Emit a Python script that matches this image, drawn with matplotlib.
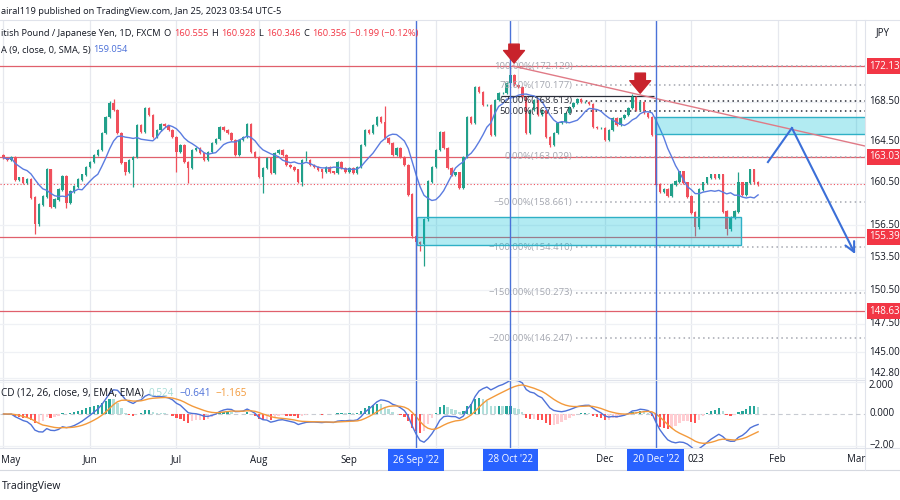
import numpy as np
import pandas as pd
import matplotlib
matplotlib.use('Agg')
import matplotlib.pyplot as plt
from matplotlib.patches import Rectangle
from matplotlib.ticker import NullLocator

# GBPJPY daily closes, May 2 2022 .. Jan 25 2023
closes = [
    162.92, 162.73, 163.02, 160.80, 160.99, 160.51, 160.80, 159.08, 156.55, 158.42,
    159.18, 161.76, 158.23, 158.89, 159.84, 161.09, 158.61, 159.65, 160.13, 160.80,
    161.28, 162.05, 162.53, 163.21, 163.70, 165.36, 166.95, 168.35, 167.65, 165.36,
    162.44, 161.57, 162.73, 163.02, 166.15, 165.46, 167.85, 167.15, 164.97, 165.66,
    166.25, 166.05, 165.66, 164.97, 163.50, 164.19, 162.53, 161.95, 163.70, 163.89,
    163.40, 162.73, 163.50, 164.38, 164.77, 165.95, 165.66, 165.36, 164.68, 163.21,
    164.68, 164.97, 166.25, 163.50, 163.02, 161.09, 161.95, 162.92, 161.47, 163.40,
    163.70, 163.21, 162.24, 162.05, 161.76, 160.61, 162.73, 162.73, 162.24, 162.05,
    161.76, 161.57, 162.05, 161.57, 161.47, 162.53, 161.95, 161.57, 161.95, 161.47,
    162.05, 164.19, 165.66, 165.36, 166.15, 166.95, 166.45, 164.87, 164.38, 163.21,
    163.89, 163.02, 162.24, 159.37, 155.44, 154.89, 154.70, 157.02, 160.61, 162.05,
    163.70, 165.46, 163.89, 161.95, 161.28, 161.47, 160.03, 163.02, 166.95, 166.35,
    169.97, 169.45, 168.15, 168.15, 165.17, 168.65, 169.35, 169.35, 170.38, 171.20,
    170.17, 169.97, 168.95, 165.36, 167.65, 168.65, 167.15, 167.65, 164.97, 164.19,
    165.36, 166.35, 166.45, 167.35, 167.95, 168.35, 168.75, 168.45, 168.45, 168.25,
    165.95, 165.86, 165.86, 164.68, 165.66, 166.85, 166.15, 166.85, 167.15, 167.85,
    168.95, 167.65, 168.45, 167.35, 166.95, 165.17, 160.32, 159.65, 159.84, 159.27,
    160.32, 160.61, 161.57, 160.51, 159.18, 157.67, 156.27, 159.84, 160.51, 160.99,
    161.28, 160.99, 161.28, 157.76, 156.09, 157.20, 157.76, 160.51, 159.37, 160.51,
    161.76, 160.555, 160.356,
]
first_open = 163.21

# long wicks visible on the chart (bar index, price)
wick_low_idx = [8, 16, 31, 33, 44, 47, 66, 76, 81, 105, 106, 107, 139, 176, 184]
wick_low_val = [155.70, 158.14, 161.28, 160.13, 161.57, 160.51, 159.56, 160.23, 160.99,
                148.85, 154.06, 152.69, 163.96, 155.44, 155.53]
wick_high_idx = [11, 27, 28, 77, 97, 129, 160, 187]
wick_high_val = [161.95, 168.55, 168.75, 163.60, 168.07, 172.13, 169.25, 161.57]

red_levels = [172.13, 163.03, 155.39, 148.63]
red_labels = ['172.13', '163.03', '155.39', '148.63']
price_ticks = [168.5, 164.5, 160.5, 156.5, 153.5, 150.5, 147.5, 145.0, 142.8]

fib_prices = [172.129, 170.177, 168.613, 167.517, 163.029, 158.661, 154.410, 150.273, 146.247]
fib_labels = ['100.00%(172.129)', '78.60%(170.177)', '62.00%(168.613)', '50.00%(167.517)',
              '0.00%(163.029)', '\u221250.00%(158.661)', '\u2212100.00%(154.410)',
              '\u2212150.00%(150.273)', '\u2212200.00%(146.247)']
fib_dark = [False, False, True, True, False, False, False, False, False]

marked_dates = ['2022-09-26', '2022-10-28', '2022-12-20']
marked_labels = ["26 Sep '22", "28 Oct '22", "20 Dec '22"]

W, H = 900, 500
UP, DOWN = '#22a08a', '#f0505c'
BLUE = '#4a72d8'
GRID = '#e6e8ee'


def fx(px):
    return px / W


def fy(py):
    return 1 - py / H


def bar_px(i):
    return 3.5 + 3.93 * i


fig = plt.figure(figsize=(9, 5), dpi=100)
fig.patch.set_facecolor('white')
ax = fig.add_axes([0, fy(380), fx(865), (380 - 20) / H])
axm = fig.add_axes([0, fy(448), fx(865), (448 - 380) / H])

days = pd.bdate_range('2022-05-02', '2023-03-31')
n = len(closes)
xs = np.arange(n)
c = np.array(closes)
o = np.concatenate([[first_open], c[:-1]])
hi = np.maximum(o, c) + 0.12
lo = np.minimum(o, c) - 0.12
hi[wick_high_idx] = wick_high_val
lo[wick_low_idx] = wick_low_val

for a in (ax, axm):
    a.set_xlim(-0.89, 219.2)
    for s in a.spines.values():
        s.set_visible(False)
    a.set_xticks([])
    a.set_yticks([])

ax.set_yscale('log')
ax.set_ylim(142.63, 176.94)
ax.yaxis.set_major_locator(NullLocator())
ax.yaxis.set_minor_locator(NullLocator())
axm.set_ylim(-2.125, 2.125)

# grid
month_pos = [0]
month_lab = ['May']
for k in range(1, len(days)):
    if days[k].month != days[k - 1].month:
        month_pos.append(k)
        month_lab.append('2023' if days[k].month == 1 else days[k].strftime('%b'))
for p in month_pos:
    ax.axvline(p, color=GRID, lw=0.9, zorder=0)
    axm.axvline(p, color=GRID, lw=0.9, zorder=0)
for p in price_ticks:
    ax.axhline(p, color='#eff1f5', lw=0.9, zorder=0)
axm.axhline(-2, color='#eff1f5', lw=0.9, zorder=0)
axm.axhline(2, color='#eff1f5', lw=0.9, zorder=0)

# candles
colors = np.where(c >= o, UP, DOWN)
ax.vlines(xs, lo, hi, colors=colors, lw=0.9, zorder=3)
ax.bar(xs, np.abs(c - o) + 0.03, bottom=np.minimum(o, c), width=0.62, color=colors, zorder=4)

# moving average
ma = pd.Series(closes).rolling(9, min_periods=1).mean()
ax.plot(xs, ma, color='#5b7ce0', lw=1.0, zorder=5)

# horizontal levels
for p in red_levels:
    ax.axhline(p, color='#e0606c', lw=0.9, zorder=2)
ax.axhline(closes[-1], color='#f0505c', lw=0.8, ls=(0, (1, 2)), zorder=2)

# fibonacci extension
for p, lab, dark in zip(fib_prices, fib_labels, fib_dark):
    col = '#2a2e39' if dark else '#a4a7b0'
    ax.hlines(p, 145.6, 219.2, colors=col, lw=1.1, linestyles=(0, (1, 2.2)), zorder=2)
    ax.text(144.8, p, lab, ha='right', va='center', fontsize=6.8, color=col,
            family='Open Sans', zorder=6)
ax.hlines(169.07, 126.5, 165.5, colors='#2a2e39', lw=0.9, zorder=2)

# zones
ax.add_patch(Rectangle((105.2, 154.63), 187.7 - 105.2, 157.25 - 154.63,
                       facecolor=(0.0, 0.74, 0.84, 0.30), edgecolor='#2fb0c6', lw=1, zorder=6))
ax.add_patch(Rectangle((165.8, 165.26), 60, 166.94 - 165.26,
                       facecolor=(0.0, 0.74, 0.84, 0.30), edgecolor='#2fb0c6', lw=1, zorder=6))

# trend line
ax.plot([129.6, 219.2], [172.13, 164.08], color='#e07a86', lw=1, zorder=6)

# red arrows on the two tops
for xi, top, tip in [(129.9, 174.40, 172.44), (162.0, 171.40, 169.35)]:
    ax.annotate('', xy=(xi, tip), xytext=(xi, top),
                arrowprops=dict(arrowstyle='simple,head_width=1.0,head_length=0.6,tail_width=0.5',
                                fc='#c8232c', ec='#c8232c', mutation_scale=15,
                                shrinkA=0, shrinkB=0), zorder=8)

# projected path
ax.plot([194.5, 200.6], [162.51, 165.86], color='#3b6fd8', lw=1.5, zorder=7)
ax.annotate('', xy=(216.7, 153.80), xytext=(200.6, 165.86),
            arrowprops=dict(arrowstyle='->,head_length=0.7,head_width=0.35', color='#3b6fd8',
                            lw=1.5, shrinkA=0, shrinkB=0), zorder=7)

# marked dates
marked_pos = [days.get_loc(pd.Timestamp(d)) for d in marked_dates]
for p in marked_pos:
    ax.axvline(p, color=BLUE, lw=1, zorder=7)
    axm.axvline(p, color=BLUE, lw=1, zorder=7)

# MACD
s = pd.Series(closes)
macd = s.ewm(span=12, adjust=False).mean() - s.ewm(span=26, adjust=False).mean()
sig = macd.ewm(span=9, adjust=False).mean()
hist = (macd - sig).values
prev = np.concatenate([[0], hist[:-1]])
hcol = np.where(hist >= 0, np.where(hist > prev, '#26a69a', '#b2dfdb'),
                np.where(hist < prev, '#ff5252', '#ffcdd2'))
axm.bar(xs, hist, width=0.6, color=hcol, zorder=3)
axm.axhline(0, color='#c8cbd2', lw=0.8, ls=(0, (4, 3)), zorder=1)
axm.plot(xs, macd, color='#4f72d8', lw=1, zorder=4)
axm.plot(xs, sig, color='#f39a3c', lw=1, zorder=4)

# frame lines
fig.add_artist(plt.Line2D([0, 1], [fy(20), fy(20)], color='#e0e3eb', lw=0.8))
fig.add_artist(plt.Line2D([0, fx(865)], [fy(380), fy(380)], color='#e0e3eb', lw=0.8))
fig.add_artist(plt.Line2D([0, 1], [fy(448), fy(448)], color='#e0e3eb', lw=0.8))
fig.add_artist(plt.Line2D([0, 1], [fy(470), fy(470)], color='#d6d9e0', lw=0.8))
fig.add_artist(plt.Line2D([fx(865), fx(865)], [fy(470), fy(20)], color='#e0e3eb', lw=0.8))

# right price scale
TXT = '#131722'
fig.text(fx(876), fy(33), 'JPY', fontsize=7, color=TXT, va='center', family='Open Sans')


def price_y(p):
    return ax.transData.transform((0, p))[1] / H


for p in price_ticks:
    yy = price_y(p)
    if p == 142.8:
        yy = fy(374)
    fig.text(fx(869), yy, '%.2f' % p, fontsize=7, color=TXT, va='center',
             family='Open Sans')
for p, lab in zip(red_levels, red_labels):
    fig.text(fx(869), price_y(p), lab, fontsize=7, color='white', va='center',
             family='Open Sans', zorder=10,
             bbox=dict(boxstyle='square,pad=0.25', fc='#f23645', ec='none'))
for v, lab in [(0, '0.000'), (-2, '\u22122.00')]:
    yy = axm.transData.transform((0, v))[1] / H
    fig.text(fx(869), yy, lab, fontsize=7, color=TXT, va='center', family='Open Sans')
fig.text(fx(869), fy(386), '2.000', fontsize=7, color=TXT, va='center', family='Open Sans')

# date axis (Oct / Nov sit under the marker boxes, only '023' of 2023 shows)
hidden = {'Oct', 'Nov'}
for p, lab in zip(month_pos, month_lab):
    if lab in hidden:
        continue
    if lab == '2023':
        fig.text(fx(688), fy(460), '023', fontsize=7, color=TXT, ha='left', va='center',
                 family='Open Sans')
        continue
    if p == 0:
        fig.text(fx(1), fy(460), lab, fontsize=7, color=TXT, ha='left', va='center',
                 family='Open Sans')
        continue
    fig.text(fx(bar_px(p)), fy(460), lab, fontsize=7, color=TXT, ha='center', va='center',
             family='Open Sans')
for p, lab in zip(marked_pos, marked_labels):
    fig.text(fx(bar_px(p)), fy(460), lab, fontsize=7, color='white', ha='center', va='center',
             family='Open Sans', zorder=10,
             bbox=dict(boxstyle='square,pad=0.55', fc='#2962ff', ec='none'))

# legends
renderer = fig.canvas.get_renderer()


def text_runs(x, y, runs, size=6.7, gap=3):
    for txt, col in runs:
        t = fig.text(fx(x), fy(y), txt, color=col, fontsize=size, va='center', ha='left',
                     family='Open Sans', zorder=9)
        x = t.get_window_extent(renderer=renderer).x1 + gap


RED = '#f23645'
text_runs(1, 11, [('airal119 published on TradingView.com, Jan 25, 2023 03:54 UTC-5', TXT)])
text_runs(1, 33, [('itish Pound / Japanese Yen, 1D, FXCM', TXT), ('O', TXT), ('160.555', RED),
                  ('H', TXT), ('160.928', RED), ('L', TXT), ('160.346', RED),
                  ('C', TXT), ('160.356', RED), ('\u22120.199 (\u22120.12%)', RED)])
text_runs(1, 50, [('A (9, close, 0, SMA, 5)', TXT), ('159.054', '#4a6fd8')])
text_runs(1, 393, [('CD (12, 26, close, 9, EMA, EMA)', TXT), ('0.524', '#a6dcd6'),
                   ('\u22120.641', '#4f72d8'), ('\u22121.165', '#f39a3c')], size=7.2, gap=5)
fig.text(fx(2), fy(486), 'TradingView', fontsize=7.5, color=TXT, va='center',
         family='Open Sans')

fig.savefig('out.png', dpi=100)
